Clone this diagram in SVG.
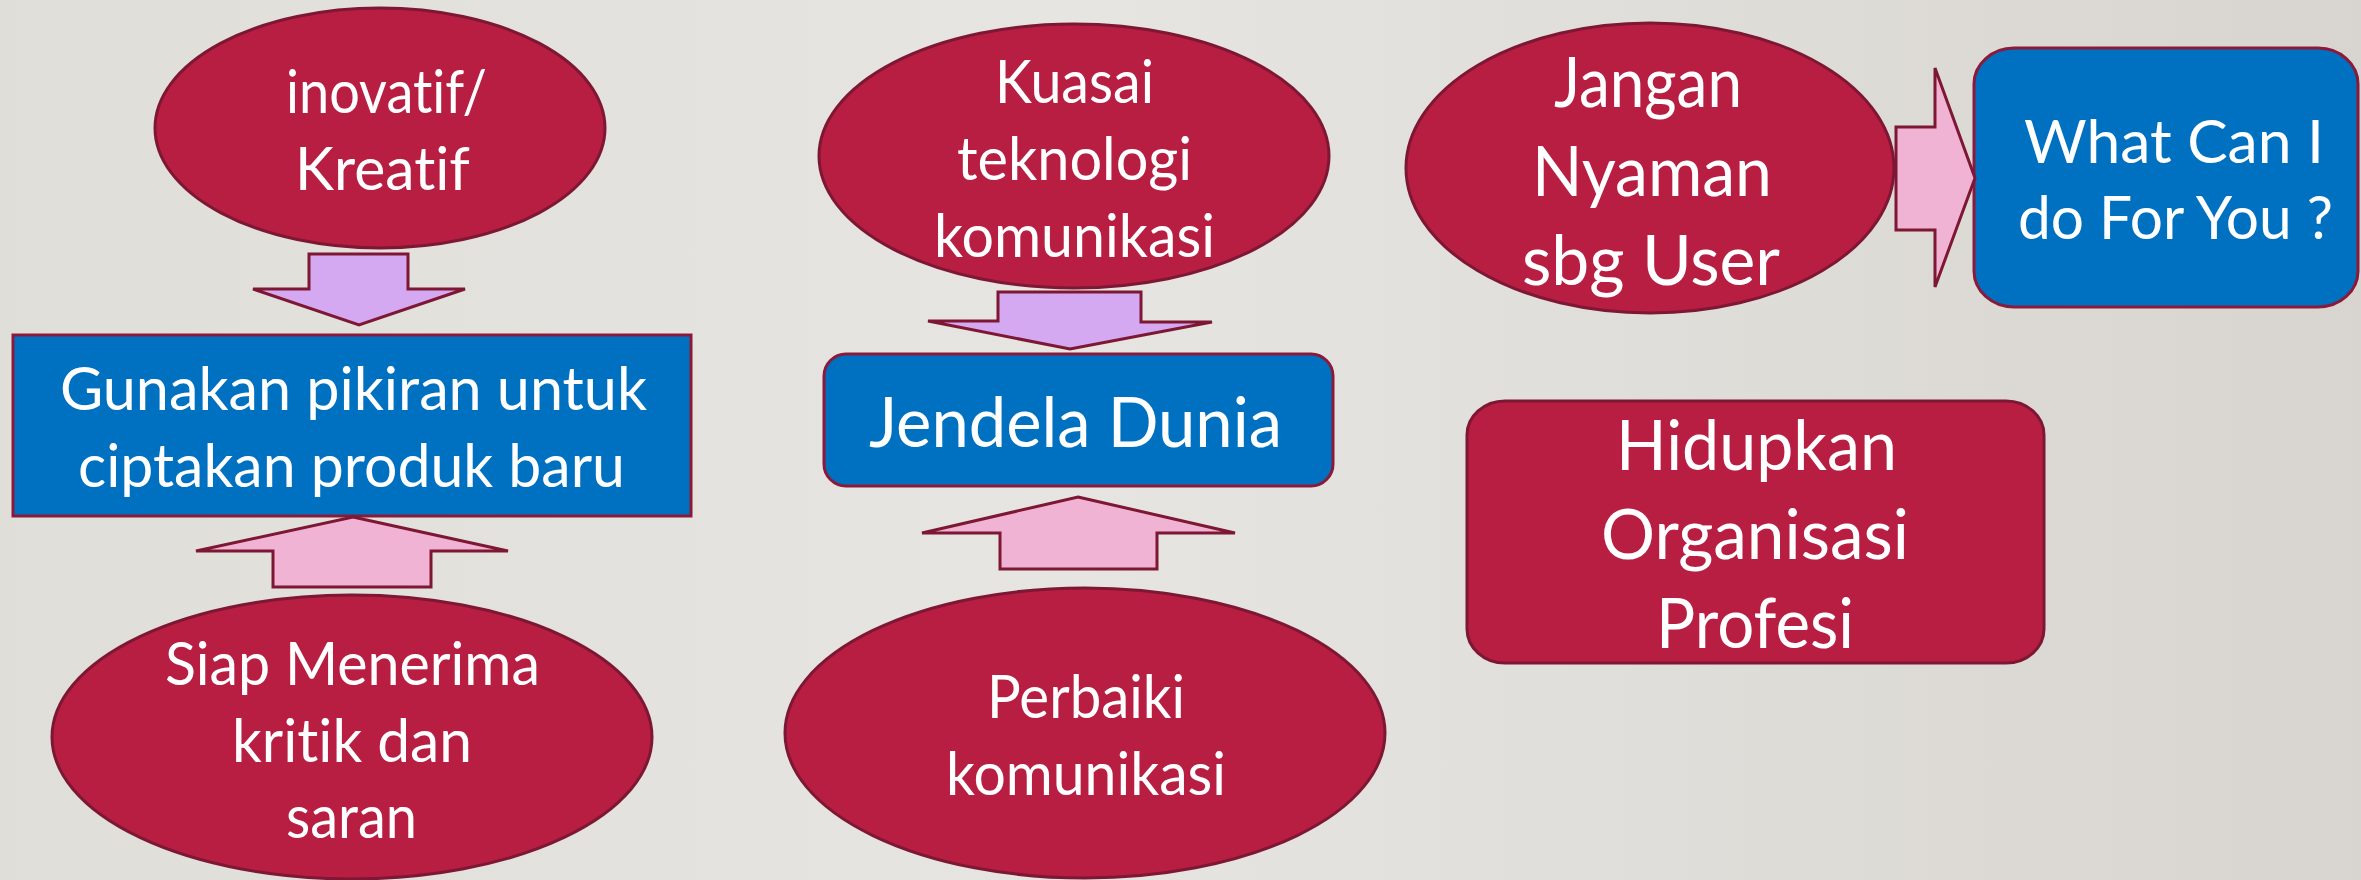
<svg xmlns="http://www.w3.org/2000/svg" width="2361" height="880" viewBox="0 0 2361 880">
<defs>
<linearGradient id="bg" x1="0" y1="0" x2="1" y2="0">
<stop offset="0" stop-color="#e0ded9"/>
<stop offset="0.45" stop-color="#e6e5e1"/>
<stop offset="1" stop-color="#d8d5d0"/>
</linearGradient>
<style>
.red{fill:#b71e42;stroke:#7d1733;stroke-width:3}
.blue{fill:#0070c0;stroke:#8b1a3a;stroke-width:3}
.down{fill:#d5a8f2;stroke:#7d1733;stroke-width:3;stroke-linejoin:miter}
.up{fill:#f1b3d3;stroke:#7d1733;stroke-width:3;stroke-linejoin:miter}
.t{font-family:Lato,"Open Sans","Liberation Sans",sans-serif;fill:#ffffff;font-size:60px;font-variant-ligatures:none;font-feature-settings:"liga" 0,"clig" 0}
.big{font-size:70px}
</style>
</defs>
<rect x="0" y="0" width="2361" height="880" fill="url(#bg)"/>
<g id="n-inovatif">
<ellipse class="red" cx="380" cy="128" rx="225" ry="120"/>
<text class="t" x="286" y="113" textLength="201" lengthAdjust="spacingAndGlyphs">inovatif/</text>
<text class="t" x="295" y="190" textLength="175" lengthAdjust="spacingAndGlyphs">Kreatif</text>
</g>
<g id="n-gunakan">
<rect class="blue" x="13" y="335" width="678" height="181"/>
<text class="t" x="60" y="410" textLength="587" lengthAdjust="spacingAndGlyphs">Gunakan pikiran untuk</text>
<text class="t" x="78" y="487" textLength="547" lengthAdjust="spacingAndGlyphs">ciptakan produk baru</text>
</g>
<g id="n-siap">
<ellipse class="red" cx="352" cy="737" rx="300" ry="142"/>
<text class="t" x="165" y="685" textLength="375" lengthAdjust="spacingAndGlyphs">Siap Menerima</text>
<text class="t" x="232" y="762" textLength="240" lengthAdjust="spacingAndGlyphs">kritik dan</text>
<text class="t" x="286" y="838" textLength="131" lengthAdjust="spacingAndGlyphs">saran</text>
</g>
<g id="n-kuasai">
<ellipse class="red" cx="1074" cy="156" rx="255" ry="132"/>
<text class="t" x="995" y="103" textLength="159" lengthAdjust="spacingAndGlyphs">Kuasai</text>
<text class="t" x="957" y="180" textLength="235" lengthAdjust="spacingAndGlyphs">teknologi</text>
<text class="t" x="934" y="257" textLength="281" lengthAdjust="spacingAndGlyphs">komunikasi</text>
</g>
<g id="n-jendela">
<rect class="blue" x="824" y="354" width="509" height="132" rx="22" ry="22"/>
<text class="t big" x="869" y="447" textLength="413" lengthAdjust="spacingAndGlyphs">Jendela Dunia</text>
</g>
<g id="n-perbaiki">
<ellipse class="red" cx="1085" cy="733" rx="300" ry="145"/>
<text class="t" x="987" y="718" textLength="198" lengthAdjust="spacingAndGlyphs">Perbaiki</text>
<text class="t" x="946" y="795" textLength="280" lengthAdjust="spacingAndGlyphs">komunikasi</text>
</g>
<g id="n-jangan">
<ellipse class="red" cx="1650" cy="168" rx="244" ry="145"/>
<text class="t big" x="1554" y="107" textLength="188" lengthAdjust="spacingAndGlyphs">Jangan</text>
<text class="t big" x="1532" y="196" textLength="240" lengthAdjust="spacingAndGlyphs">Nyaman</text>
<text class="t big" x="1522" y="285" textLength="258" lengthAdjust="spacingAndGlyphs">sbg User</text>
</g>
<g id="n-what">
<rect class="blue" x="1974" y="48" width="384" height="259" rx="40" ry="36"/>
<text class="t" x="2024" y="163" textLength="300" lengthAdjust="spacingAndGlyphs">What Can I</text>
<text class="t" x="2018" y="239" textLength="315" lengthAdjust="spacingAndGlyphs">do For You ?</text>
</g>
<g id="n-hidupkan">
<rect class="red" x="1467" y="401" width="577" height="262" rx="38" ry="34"/>
<text class="t big" x="1616" y="470" textLength="281" lengthAdjust="spacingAndGlyphs">Hidupkan</text>
<text class="t big" x="1601" y="559" textLength="308" lengthAdjust="spacingAndGlyphs">Organisasi</text>
<text class="t big" x="1656" y="648" textLength="198" lengthAdjust="spacingAndGlyphs">Profesi</text>
</g>
<g id="connectors">
<polygon class="down" points="309,254 408,254 408,289 465,289 359,325 253,289 309,289"/>
<polygon class="up" points="353,517 508,551 431,551 431,587 273,587 273,551 196,551"/>
<polygon class="down" points="998,292 1141,292 1141,322 1212,322 1070,349 928,321 998,321"/>
<polygon class="up" points="1078,497 1235,533 1157,533 1157,569 1000,569 1000,533 922,533"/>
<polygon class="up" points="1896,127 1935,127 1935,68 1975,178 1935,287 1935,230 1896,230"/>
</g>
</svg>
